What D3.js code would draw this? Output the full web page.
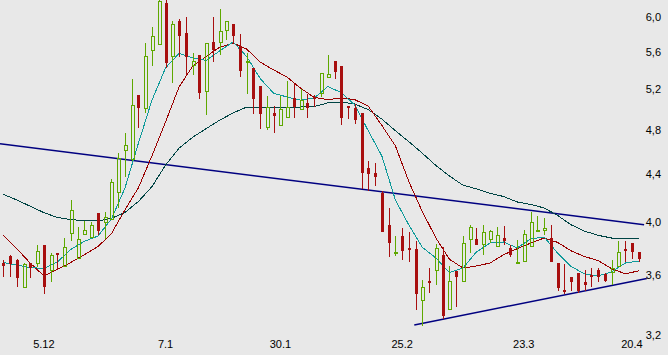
<!DOCTYPE html>
<html>
<head>
<meta charset="utf-8">
<script src="https://cdn.jsdelivr.net/npm/d3@7/dist/d3.min.js"></script>
<style>
html,body{margin:0;padding:0;background:#e8e8e8;}
svg{display:block;}
text{font-family:"Liberation Sans",Arial,sans-serif;font-size:11px;fill:#000;}
</style>
</head>
<body>
<svg id="chart" width="668" height="355"></svg>
<script>
// ---- data ----
const opens  = [3.69,3.74,3.71,3.51,3.69,3.68,3.82,3.63,3.76,3.66,3.91,3.72,3.90,3.88,4.07,3.99,4.02,4.24,4.60,4.52,5.14,5.00,5.61,5.68,6.17,5.54,5.95,5.81,5.45,5.57,5.17,5.71,5.70,5.84,5.92,5.67,5.48,5.42,5.23,4.82,4.96,4.84,4.91,5.11,4.99,5.06,5.12,5.15,5.32,5.50,5.45,5.03,5.01,4.96,4.45,4.41,4.24,3.98,3.76,3.89,3.80,3.79,3.42,3.56,3.63,3.75,3.36,3.63,3.55,3.86,3.87,3.82,3.86,3.81,3.88,3.80,3.68,3.70,3.81,3.92,3.93,3.88,3.69,3.50,3.59,3.62,3.55,3.60,3.64,3.61,3.62,3.66,3.79,3.84,3.77];
const highs  = [3.71,3.75,3.72,3.69,3.69,3.82,3.82,3.76,3.76,3.88,4.18,3.96,4.01,4.00,4.07,4.08,4.36,4.59,4.77,5.31,5.14,5.70,5.88,6.20,6.20,5.95,5.98,6.00,5.59,5.57,5.70,6.00,6.10,5.95,5.92,5.80,5.59,5.42,5.23,5.13,5.03,5.13,5.29,5.26,5.20,5.15,5.14,5.37,5.57,5.50,5.45,5.03,5.05,4.96,4.51,4.50,4.25,4.11,3.89,3.95,3.92,3.85,3.57,3.65,3.83,3.81,3.67,3.63,3.89,3.98,3.95,3.98,3.94,3.96,3.97,3.82,3.86,3.94,4.08,4.05,4.03,3.98,3.69,3.68,3.59,3.62,3.64,3.65,3.65,3.62,3.71,3.85,3.85,3.84,3.77];
const lows   = [3.59,3.59,3.52,3.51,3.58,3.66,3.47,3.55,3.64,3.66,3.85,3.72,3.90,3.88,3.90,3.87,4.02,4.11,4.37,4.51,4.82,4.96,5.45,5.68,5.42,5.27,5.54,5.35,5.35,5.10,4.94,5.49,5.57,5.73,5.70,5.33,5.15,4.95,4.81,4.80,4.77,4.84,4.91,4.91,4.99,4.91,5.02,5.12,5.32,5.31,4.85,4.90,4.86,4.27,4.25,4.30,3.92,3.73,3.74,3.71,3.70,3.36,3.26,3.48,3.53,3.30,3.36,3.38,3.55,3.76,3.82,3.75,3.84,3.81,3.82,3.73,3.68,3.70,3.81,3.92,3.90,3.70,3.49,3.47,3.49,3.48,3.49,3.52,3.55,3.55,3.53,3.66,3.70,3.72,3.70];
const closes = [3.67,3.68,3.58,3.68,3.65,3.78,3.52,3.75,3.75,3.81,4.10,3.87,3.94,3.98,3.93,4.04,4.33,4.54,4.66,5.04,5.01,5.56,5.78,6.19,5.48,5.92,5.78,5.54,5.50,5.16,5.70,5.62,5.84,5.95,5.78,5.39,5.50,5.10,4.95,5.02,4.93,5.00,5.02,5.02,5.09,5.01,5.11,5.37,5.36,5.38,4.91,5.02,4.89,4.41,4.40,4.37,3.92,3.84,3.77,3.78,3.79,3.47,3.52,3.55,3.80,3.32,3.56,3.59,3.84,3.96,3.82,3.92,3.93,3.90,3.85,3.75,3.70,3.91,4.00,3.94,3.95,3.70,3.51,3.49,3.55,3.49,3.53,3.59,3.59,3.56,3.65,3.77,3.78,3.77,3.72];

// moving averages, read at every second bar
const maIndex = [0,2,4,6,8,10,12,14,16,18,20,22,24,26,28,30,32,34,36,38,40,42,44,46,48,50,52,54,56,58,60,62,64,66,68,70,72,74,76,78,80,82,84,86,88,90,92,94];
const maShort = [3.693,3.675,3.656,3.650,3.697,3.790,3.851,3.891,4.025,4.279,4.677,5.092,5.425,5.583,5.533,5.506,5.610,5.711,5.549,5.313,5.160,5.122,5.090,5.112,5.229,5.168,5.042,4.790,4.559,4.179,3.977,3.805,3.726,3.621,3.653,3.771,3.838,3.846,3.801,3.869,3.884,3.763,3.664,3.611,3.596,3.625,3.689,3.704];
const maMid   = [3.897,3.795,3.688,3.597,3.642,3.694,3.751,3.811,3.910,4.099,4.282,4.562,4.876,5.225,5.442,5.549,5.652,5.698,5.632,5.488,5.404,5.327,5.211,5.118,5.095,5.112,5.096,5.029,4.843,4.651,4.333,4.083,3.877,3.717,3.653,3.668,3.689,3.750,3.795,3.837,3.876,3.843,3.779,3.737,3.707,3.648,3.612,3.632];
const maLong  = [4.226,4.179,4.127,4.076,4.037,4.020,4.011,4.009,4.030,4.077,4.167,4.291,4.477,4.630,4.730,4.812,4.893,4.963,5.022,5.022,5.022,5.022,5.022,5.026,5.063,5.072,5.052,4.996,4.904,4.792,4.689,4.583,4.474,4.382,4.303,4.272,4.234,4.208,4.163,4.142,4.114,4.053,3.979,3.929,3.897,3.876,3.876,3.869];

// trend lines: [bar index, price]
const trendUpper = [[-0.49,4.67],[94.8,3.98]];
const trendLower = [[60.8,3.264],[95.2,3.578]];

const yTicks = [3.2,3.6,4.0,4.4,4.8,5.2,5.6,6.0];
const xTickIndex = [6,24,41,59,77,93];
const xTickLabels = ["5.12","7.1","30.1","25.2","23.3","20.4"];

// ---- drawing ----
const svg = d3.select("#chart");
const W = 668, H = 355;
svg.append("rect").attr("width",W).attr("height",H).attr("fill","#e8e8e8");

const x = d3.scaleLinear().domain([0, opens.length-1]).range([3.3, 638.7]);
const y = d3.scaleLog().domain([3.2, 6.0]).range([335, 17]);

const colUp = "#5ea800", colDown = "#a80f0f";

// trend lines
[trendUpper, trendLower].forEach(t => {
  svg.append("line")
    .attr("x1", x(t[0][0])).attr("y1", y(t[0][1]))
    .attr("x2", x(t[1][0])).attr("y2", y(t[1][1]))
    .attr("stroke","#000080").attr("stroke-width",1.5);
});

// moving averages
const line = d3.line().x((d,i)=>x(maIndex[i])).y(d=>y(d));
[[maLong,"#004444"],[maMid,"#990000"],[maShort,"#0e9a9a"]].forEach(([arr,c])=>{
  svg.append("path").attr("d", line(arr)).attr("fill","none")
    .attr("stroke", c).attr("stroke-width",1).attr("shape-rendering","crispEdges");
});

// candles
const g = svg.append("g").attr("shape-rendering","crispEdges");
opens.forEach((o,i)=>{
  const c = closes[i], hi = highs[i], lo = lows[i];
  const cx = Math.round(x(i));
  const up = c >= o;
  const yTop = Math.round(y(Math.max(o,c)));
  const yBot = Math.round(y(Math.min(o,c)));
  const yHi = Math.round(y(hi)), yLo = Math.round(y(lo));
  const col = up ? colUp : colDown;
  if (up) {
    if (yTop > yHi) g.append("line").attr("x1",cx+0.5).attr("x2",cx+0.5).attr("y1",yHi).attr("y2",yTop).attr("stroke",col);
    if (yLo > yBot) g.append("line").attr("x1",cx+0.5).attr("x2",cx+0.5).attr("y1",yBot).attr("y2",yLo).attr("stroke",col);
    const h = Math.max(yBot - yTop, 1);
    if (h <= 2) {
      g.append("rect").attr("x",cx-1).attr("y",yTop).attr("width",4).attr("height",Math.max(h,2)).attr("fill",col);
    } else {
      g.append("rect").attr("x",cx-0.5).attr("y",yTop+0.5).attr("width",3).attr("height",h-1)
        .attr("fill","none").attr("stroke",col).attr("stroke-width",1);
    }
  } else {
    g.append("line").attr("x1",cx+0.5).attr("x2",cx+0.5).attr("y1",yHi).attr("y2",yLo).attr("stroke",col);
    g.append("rect").attr("x",cx-1).attr("y",yTop).attr("width",3).attr("height",Math.max(yBot-yTop,2)).attr("fill",col);
  }
});

// y axis labels (right)
svg.append("g").selectAll("text").data(yTicks).join("text")
  .attr("x",661).attr("y",d=>y(d)).attr("dy","0.35em").attr("text-anchor","end")
  .text(d=>d.toFixed(1).replace(".",","));

// x axis labels
svg.append("g").selectAll("text").data(xTickIndex).join("text")
  .attr("x",d=>x(d)).attr("y",348).attr("text-anchor","middle")
  .text((d,i)=>xTickLabels[i]);
</script>
</body>
</html>
